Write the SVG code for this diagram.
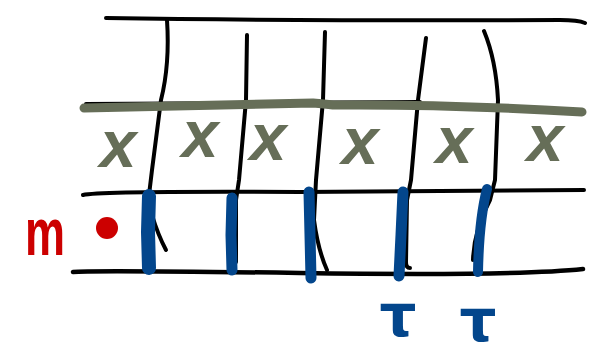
<svg xmlns="http://www.w3.org/2000/svg" width="605" height="360" viewBox="0 0 605 360">
<style>
.ink{fill:none;stroke:#000;stroke-width:4;stroke-linecap:round;stroke-linejoin:round}
.gray{fill:none;stroke:#666e58;stroke-width:9;stroke-linecap:round;stroke-linejoin:round}
.blue{fill:none;stroke:#03468c;stroke-linecap:round;stroke-linejoin:round}
.xm{font-family:"Liberation Sans",Arial,sans-serif;font-size:66px;font-weight:bold;font-style:italic;fill:#666e58;text-anchor:middle}
.tau{font-family:"DejaVu Sans",sans-serif;font-size:58px;font-weight:bold;fill:#03468c;text-anchor:middle}
</style>
<rect width="605" height="360" fill="#fff"/>
<g id="grid">
<path class="ink" d="M106,18 Q300,21 560,20 Q578,20 585,23"/>
<path class="ink" d="M86,104 L420,102"/>
<path class="ink" d="M83,195 Q100,191 300,192 L584,190" />
<path class="ink" d="M73,272 Q90,270 300,273 Q520,276 583,269" style="stroke-width:4.5"/>
</g>
<g id="connectors">
<path class="ink" d="M167,20 C169,50 166,80 161,100 L152,170 L149,195 L152,215 Q158,235 166,250"/>
<path class="ink" d="M247,35 L246,100 L239,180 L236,200 L236,262"/>
<path class="ink" d="M325,32 L323,100 L316,180 L314,220 Q318,250 327,270"/>
<path class="ink" d="M426,38 L418,100 L411,180 L407,200 L406,262 Q406,268 410,268"/>
<path class="ink" d="M484,31 Q496,60 498,100 L495,180 L490,200 Q474,230 473,260"/>
</g>
<g id="band">
<path class="gray" d="M84,108 Q200,105 313,103 Q325,104 333,105 Q450,104 582,112"/>
</g>
<g id="xs">
<text class="xm" x="118" y="167">x</text>
<text class="xm" x="200" y="157">x</text>
<text class="xm" x="268" y="160">x</text>
<text class="xm" x="360" y="164">x</text>
<text class="xm" x="454" y="163">x</text>
<text class="xm" x="545" y="161">x</text>
</g>
<g id="bars">
<path class="blue" style="stroke-width:14" d="M149,196 L148,232 L149,268"/>
<path class="blue" style="stroke-width:11" d="M232,198 L231,235 L232,270"/>
<path class="blue" style="stroke-width:11" d="M309,192 L310,235 L311,278"/>
<path class="blue" style="stroke-width:11" d="M403,192 L401,235 L399,276"/>
<path class="blue" style="stroke-width:10" d="M487,189 Q479,220 478,272"/>
</g>
<g id="m-label">
<text x="45" y="255" font-family="Liberation Sans, Arial, sans-serif" font-size="66" font-weight="bold" fill="#cc0000" text-anchor="middle" textLength="40" lengthAdjust="spacingAndGlyphs">m</text>
<circle cx="107" cy="228" r="11" fill="#cc0000"/>
</g>
<g id="tau-labels">
<text class="tau" x="398" y="336">τ</text>
<text class="tau" x="478" y="341">τ</text>
</g>
</svg>
